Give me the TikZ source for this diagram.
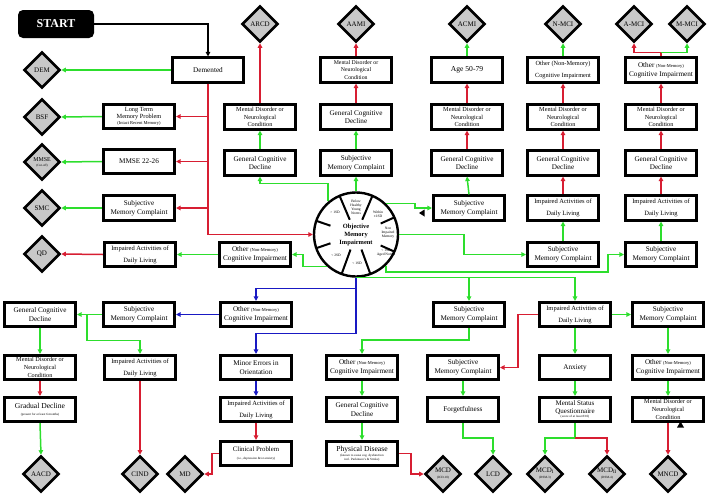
\documentclass[tikz,border=0pt]{standalone}
\usepackage{fontspec}
\setmainfont{Liberation Serif}
\usetikzlibrary{shapes.geometric,arrows.meta}
\definecolor{cg}{RGB}{45,222,45}
\definecolor{cr}{RGB}{215,30,50}
\definecolor{cb}{RGB}{25,25,195}
\definecolor{cgray}{RGB}{200,200,200}
\newcommand\setfs[2]{\fontsize{#1}{#2}\selectfont}
\newcommand\smtxt[1]{{\setfs{4.5}{5}#1}}
\newcommand\tinytxt[1]{{\setfs{3.2}{3.6}#1}}
\begin{document}
\begin{tikzpicture}[x=1pt,y=-1pt,
 bx/.style={draw,line width=2.6pt,fill=white,minimum width=71.5pt,minimum height=24.5pt,inner sep=1pt,align=center,font=\setfs{7.2}{8.7}},
 mdbx/.style={bx,font=\setfs{6.2}{7.7}},
 iabx/.style={bx,font=\setfs{6.5}{12}},
 dm/.style={diamond,draw,line width=2.6pt,fill=cgray,minimum width=36pt,minimum height=36pt,inner sep=0pt,align=center,font=\setfs{7}{8}},
 con/.style={line width=1.5pt,-{Triangle[length=4.5pt,width=4.5pt]}},
 ga/.style={con,cg},
 ra/.style={con,cr},
 ba/.style={con,cb},
 ka/.style={con,black},
 lab/.style={inner sep=0pt,align=center,font=\setfs{3.6}{4.1}}
]
\useasboundingbox (0,0) rectangle (720,498);

% ---------- top-left ----------
\node[fill=black,rounded corners=5pt,minimum width=76pt,minimum height=28pt,text=white,font=\setfs{12}{14}\bfseries] (start) at (56,24) {START};
\node[bx] (dem) at (208,70) {Demented};
\node[dm] (DEMd) at (42,70) {DEM};
\node[mdbx,font=\setfs{6.3}{7.6}] (ltmp) at (139,116.5) {Long Term\\Memory Problem\\[-1.5pt]\smtxt{(Intact Recent Memory)}};
\node[dm] (BSF) at (42,117) {BSF};
\node[bx] (mmse) at (139,161.5) {MMSE 22-26};
\node[dm,font=\setfs{5.9}{6.2}] (MMSEd) at (42,162) {MMSE\\[-1pt]\tinytxt{(Cut-off)}};
\node[bx] (smc1) at (139,208) {Subjective\\Memory Complaint};
\node[dm] (SMCd) at (42,208) {SMC};
\node[iabx] (iadl1) at (140,254.5) {Impaired Activities of\\Daily Living};
\node[dm] (QD) at (42,254) {QD};

% ---------- column C ----------
\node[dm] (ARCD) at (260,24) {ARCD};
\node[mdbx] (md1) at (260,117) {Mental Disorder or\\Neurological\\Condition};
\node[bx] (gcd1) at (260,163) {General Cognitive\\Decline};
\node[bx] (oci1) at (255,254.5) {Other \smtxt{(Non-Memory)}\\Cognitive Impairment};

% ---------- column D ----------
\node[dm] (AAMI) at (356,24) {AAMI};
\node[mdbx,font=\setfs{5.8}{7.2}] (md2) at (356,70) {Mental Disorder or\\Neurological\\Condition};
\node[bx] (gcd2) at (356,117) {General Cognitive\\Decline};
\node[bx] (smc2) at (356,163) {Subjective\\Memory Complaint};

% ---------- circle ----------
\node[circle,draw,line width=2.4pt,fill=white,minimum size=84pt,inner sep=0pt] (omi) at (356,234.5) {};
\begin{scope}[shift={(omi.center)}]
\foreach \a/\r in {113/16,67/16,250/16,290/16,161/27,199/27,24/27,-24/27}
  \draw[line width=2pt] (\a:42pt) -- (\a:\r pt);
\end{scope}
\node[inner sep=0pt,align=center,font=\setfs{6.4}{7.6}\bfseries] (omit) at (356,235) {Objective\\Memory\\Impairment};
\node[lab] (l1) at (356,207) {Below\\Healthy\\Young\\Norms};
\node[lab] (l2) at (335,212) {> 1SD};
\node[lab] (l3) at (378,214) {Within\\±1SD};
\node[lab] (l4) at (388,233) {Non\\Impaired\\Memory};
\node[lab] (l5) at (386,253) {< 1SD\\Aged Norms};
\node[lab] (l6) at (357,263) {< 1SD};
\node[lab] (l7) at (336,255) {< 2SD};

% ---------- column E ----------
\node[dm] (ACMI) at (467,24) {ACMI};
\node[bx,font=\setfs{7.6}{9}] (age) at (467,70) {Age 50-79};
\node[mdbx] (md3) at (467,117) {Mental Disorder or\\Neurological\\Condition};
\node[bx] (gcd3) at (467,163) {General Cognitive\\Decline};
\node[bx] (smc3) at (469,208) {Subjective\\Memory Complaint};

% ---------- column F ----------
\node[dm] (NMCI) at (563,24) {N-MCI};
\node[bx,font=\setfs{6.3}{12}] (oci2) at (563,70) {Other (Non-Memory)\\Cognitive Impairment};
\node[mdbx] (md4) at (563,117) {Mental Disorder or\\Neurological\\Condition};
\node[bx] (gcd4) at (563,163) {General Cognitive\\Decline};
\node[iabx] (iadl2) at (563,208) {Impaired Activities of\\Daily Living};
\node[bx] (smc4) at (563,254.5) {Subjective\\Memory Complaint};

% ---------- column G ----------
\node[dm] (AMCI) at (634,24) {A-MCI};
\node[dm] (MMCI) at (687,24) {M-MCI};
\node[bx] (oci3) at (661,70) {Other \smtxt{(Non-Memory)}\\Cognitive Impairment};
\node[mdbx] (md5) at (661,117) {Mental Disorder or\\Neurological\\Condition};
\node[bx] (gcd5) at (661,163) {General Cognitive\\Decline};
\node[iabx] (iadl3) at (661,208) {Impaired Activities of\\Daily Living};
\node[bx] (smc5) at (661,254.5) {Subjective\\Memory Complaint};

% ---------- bottom part ----------
\node[bx] (gcd6) at (40,314.5) {General Cognitive\\Decline};
\node[bx] (smc6) at (139,314.5) {Subjective\\Memory Complaint};
\node[bx] (oci4) at (256,314.5) {Other \smtxt{(Non-Memory)}\\Cognitive Impairment};
\node[bx] (smc7) at (469,314.5) {Subjective\\Memory Complaint};
\node[iabx] (iadl4) at (575,314.5) {Impaired Activities of\\Daily Living};
\node[bx] (smc8) at (668,314.5) {Subjective\\Memory Complaint};

\node[mdbx] (md6) at (40,367.5) {Mental Disorder or\\Neurological\\Condition};
\node[iabx] (iadl5) at (140,367.5) {Impaired Activities of\\Daily Living};
\node[bx] (minor) at (256,367.5) {Minor Errors in\\Orientation};
\node[bx] (oci5) at (362,367.5) {Other \smtxt{(Non-Memory)}\\Cognitive Impairment};
\node[bx] (smc9) at (463,367.5) {Subjective\\Memory Complaint};
\node[bx] (anx) at (575,367.5) {Anxiety};
\node[bx] (oci6) at (668,367.5) {Other \smtxt{(Non-Memory)}\\Cognitive Impairment};

\node[bx,font=\setfs{7.6}{9}] (grad) at (40,409.5) {Gradual Decline\\[-2pt]\tinytxt{(present for at least 6 months)}};
\node[iabx] (iadl6) at (256,409.5) {Impaired Activities of\\Daily Living};
\node[bx] (gcd7) at (362,409.5) {General Cognitive\\Decline};
\node[bx] (forget) at (463,409.5) {Forgetfulness};
\node[bx,font=\setfs{7}{8}] (msq) at (575,409.5) {Mental Status\\Questionnaire\\[-3.5pt]\tinytxt{(score of at least 8/10)}};
\node[mdbx] (md7) at (668,409.5) {Mental Disorder or\\Neurological\\Condition};

\node[bx,font=\setfs{6.8}{9}] (clin) at (256,453.5) {Clinical Problem\\[-1pt]\tinytxt{(i.e., depression \&/or anxiety)}};
\node[bx,font=\setfs{7.6}{8}] (phys) at (362,453.5) {Physical Disease\\[-3pt]\tinytxt{(known to cause cog. dysfunction}\\[-4.2pt]\tinytxt{incl. Parkinson's \& Stroke)}};

\node[dm] (AACD) at (41,474) {AACD};
\node[dm] (CIND) at (140,474) {CIND};
\node[dm] (MDd) at (185,474) {MD};
\node[dm] (MCD) at (443,474) {MCD\\[-2pt]\tinytxt{(ICD-10)}};
\node[dm] (LCD) at (493,474) {LCD};
\node[dm] (MCDI) at (545,474) {MCD\textsubscript{I}\\[-2pt]\tinytxt{(DSM-3)}};
\node[dm] (MCDII) at (607,474) {MCD\textsubscript{II}\\[-2pt]\tinytxt{(DSM-4)}};
\node[dm] (MNCD) at (668,474) {MNCD};

% ---------- connectors: top-left ----------
\draw[ka] (start.east) -| (dem.north);
\draw[ga] (dem.west) -- (DEMd.east);
\draw[ra] (dem.south) |- (omi.west);
\draw[ra] (dem.south |- ltmp.east) -- (ltmp.east);
\draw[ra] (dem.south |- mmse.east) -- (mmse.east);
\draw[ra] (dem.south |- smc1.east) -- (smc1.east);
\draw[ga] (ltmp.west) -- (BSF.east);
\draw[ga] (mmse.west) -- (MMSEd.east);
\draw[ga] (smc1.west) -- (SMCd.east);
\draw[ra] (iadl1.west) -- (QD.east);
\draw[ga] (oci1.west) -- (iadl1.east);
\draw[ga] (omi.228) -| ([xshift=11pt]oci1.east) -- (oci1.east);

% column C
\draw[ga] (omi.130) |- ([yshift=-7pt]gcd1.south) -- (gcd1.south);
\draw[ga] (gcd1.north) -- (md1.south);
\draw[ra] (md1.north) -- (ARCD.south);
% column D
\draw[ga] (omi.north) -- (smc2.south);
\draw[ga] (smc2.north) -- (gcd2.south);
\draw[ra] (gcd2.north) -- (md2.south);
\draw[ra] (md2.north) -- (AAMI.south);
% column E
\draw[ga] (omi.46) -- ++(29,0) |- (smc3.west);
\draw[ga] (smc3.north) -- (gcd3.south);
\draw[ra] (gcd3.north) -- (md3.south);
\draw[ra] (md3.north) -- (age.south);
\draw[ga] (age.north) -- (ACMI.south);
% column F
\draw[ga] (omi.east) -| ([xshift=-62pt]smc4.west) -- (smc4.west);
\draw[ga] (smc4.north) -- (iadl2.south);
\draw[ra] (iadl2.north) -- (gcd4.south);
\draw[ra] (gcd4.north) -- (md4.south);
\draw[ra] (md4.north) -- (oci2.south);
\draw[ga] (oci2.north) -- (NMCI.south);
% column G
\draw[ga] (omi.-46) |- ([xshift=-16pt,yshift=-17.5pt]smc5.west) |- (smc5.west);
\draw[ga] (smc5.north) -- (iadl3.south);
\draw[ra] (iadl3.north) -- (gcd5.south);
\draw[ra] (gcd5.north) -- (md5.south);
\draw[ra] (md5.north) -- (oci3.south);
\draw[ra] (oci3.north) -- ++(0,-4) -| (AMCI.south);
\draw[ga] ([yshift=4pt]oci3.north) -| (MMCI.south);

% ---------- connectors: bottom ----------
\draw[ga] (omi.south) -| (iadl4.north);
\draw[ga] (smc7.north |- omi.south) -- (smc7.north);
\draw[ba] (omi.south) -- ++(0,11) -| (oci4.north);
\draw[ba] (omi.south) -- ++(0,56) -| (minor.north);
\draw[ba] (oci4.west) -- (smc6.east);
\draw[ga] (smc6.west) -- (gcd6.east);
\draw[ga] ([xshift=-15pt]smc6.west) -- ++(0,26) -| (iadl5.north);
\draw[ga] (gcd6.south) -- (md6.north);
\draw[ra] (md6.south) -- (grad.north);
\draw[ga] (grad.south) -- (AACD.north);
\draw[ra] (iadl5.south) -- (CIND.north);
\draw[ba] (minor.south) -- (iadl6.north);
\draw[ra] (iadl6.south) -- (clin.north);
\draw[ra] (clin.west) -- ++(-7,0) |- (MDd.east);
\draw[ga] (smc7.south) -- ++(0,12) -| (oci5.north);
\draw[ga] (oci5.south) -- (gcd7.north);
\draw[ga] (gcd7.south) -- (phys.north);
\draw[ra] (phys.east) -- ++(12,0) |- (MCD.west);
\draw[ra] (iadl4.west) -- ++(-20,0) |- (smc9.east);
\draw[ga] (smc9.south) -- (forget.north);
\draw[ga] (forget.south) -- ++(0,15) -| (LCD.north);
\draw[ga] (iadl4.south) -- (anx.north);
\draw[ga] (anx.south) -- (msq.north);
\draw[ga] (msq.south) -- ++(0,15) -| (MCDI.north);
\draw[ra] ([yshift=-15pt]msq.south) -| (MCDII.north);
\draw[ga] (iadl4.east) -- (smc8.west);
\draw[ga] (smc8.south) -- (oci6.north);
\draw[ga] (oci6.south) -- (md7.north);
\draw[ra] (md7.south) -- (MNCD.north);

% small black marks
\fill (419,213) -- (424.5,209.5) -- (424.5,216.5) -- cycle;
\fill (680.5,421.5) -- (677,427.5) -- (684,427.5) -- cycle;
\end{tikzpicture}
\end{document}
